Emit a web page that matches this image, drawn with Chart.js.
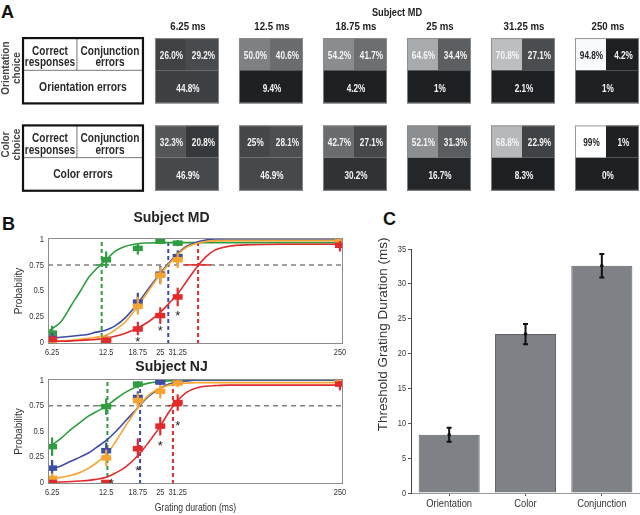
<!DOCTYPE html>
<html>
<head>
<meta charset="utf-8">
<script src="https://cdn.jsdelivr.net/npm/chart.js@4.4.1/dist/chart.umd.min.js"></script>
<style>
  html, body { margin: 0; padding: 0; background: #fff; }
  body { width: 640px; height: 515px; position: relative; overflow: hidden; }
  canvas { position: absolute; }
  .letter { position: absolute; font: bold 18px "Liberation Sans", Arial, sans-serif; line-height: 21px; color: #111; }
</style>
</head>
<body>
<div class="letter" style="left:1px;top:2px">A</div>
<div class="letter" style="left:2px;top:214px">B</div>
<div class="letter" style="left:383px;top:209px">C</div>
<canvas id="chartA" width="640" height="200" style="left:0;top:0"></canvas>
<canvas id="chartB1" width="360" height="165" style="left:0;top:200px"></canvas>
<canvas id="chartB2" width="360" height="165" style="left:0;top:350px"></canvas>
<canvas id="chartC" width="270" height="285" style="left:370px;top:230px"></canvas>
<script>
// ---------- panel A : response proportions, subject MD ----------
const durationHeads = ['6.25 ms', '12.5 ms', '18.75 ms', '25 ms', '31.25 ms', '250 ms'];

const oriCorrect = [26.0, 50.0, 54.2, 64.6, 70.8, 94.8];
const oriConj    = [29.2, 40.6, 41.7, 34.4, 27.1, 4.2];
const oriErrors  = [44.8, 9.4, 4.2, 1, 2.1, 1];
const colCorrect = [32.3, 25, 42.7, 52.1, 68.8, 99];
const colConj    = [20.8, 28.1, 27.1, 31.3, 22.9, 1];
const colErrors  = [46.9, 46.9, 30.2, 16.7, 8.3, 0];

// grey level of every square as printed (0 = black, 255 = white)
const oriCorrectGrey = [64, 126, 138, 168, 188, 248];
const oriConjGrey    = [72, 106, 108, 92, 74, 30];
const oriErrorsGrey  = [62, 30, 30, 30, 30, 30];
const colCorrectGrey = [84, 68, 106, 140, 182, 255];
const colConjGrey    = [54, 76, 70, 90, 64, 30];
const colErrorsGrey  = [70, 70, 48, 36, 30, 30];

// ---------- panel B : psychometric functions ----------
const durations = [6.25, 12.5, 18.75, 25, 31.25, 250];
const durationTicks = ['6.25', '12.5', '18.75', '25', '31.25', '250'];
const probTicks = [0, 0.25, 0.5, 0.75, 1];
const fitX = [5.95, 7, 8, 9, 10, 11, 12.5, 14, 16, 18.75, 21.5, 25, 28, 31.25, 35, 40, 45, 50, 60, 80, 120, 258];

// subject MD
const mdGreen   = [0.09, 0.80, 0.91, 0.98, 0.96, 0.96];
const mdGreenLo = [0.02, 0.72, 0.85, 0.95, 0.93, 0.93];
const mdGreenHi = [0.16, 0.88, 0.96, 1.0, 0.99, 0.99];
const mdBlue    = [0.04, 0.03, 0.39, 0.66, 0.83, 0.99];
const mdBlueLo  = [0.0, 0.0, 0.30, 0.57, 0.76, 0.97];
const mdBlueHi  = [0.09, 0.07, 0.48, 0.74, 0.89, 1.0];
const mdOrange   = [0.0, 0.03, 0.35, 0.65, 0.80, 0.98];
const mdOrangeLo = [0.0, 0.0, 0.27, 0.56, 0.72, 0.95];
const mdOrangeHi = [0.03, 0.07, 0.44, 0.73, 0.87, 1.0];
const mdRed   = [0.03, 0.02, 0.13, 0.26, 0.44, 0.94];
const mdRedLo = [0.0, 0.0, 0.07, 0.18, 0.35, 0.88];
const mdRedHi = [0.07, 0.05, 0.20, 0.34, 0.53, 0.98];
const mdGreenFit  = [0.11, 0.20, 0.36, 0.50, 0.63, 0.71, 0.80, 0.88, 0.93, 0.955, 0.962, 0.965, 0.965, 0.965, 0.965, 0.965, 0.965, 0.965, 0.965, 0.965, 0.965, 0.965];
const mdBlueFit   = [0.04, 0.05, 0.06, 0.07, 0.08, 0.10, 0.12, 0.16, 0.24, 0.38, 0.52, 0.67, 0.77, 0.86, 0.93, 0.97, 0.99, 1.0, 1.0, 1.0, 1.0, 1.0];
const mdOrangeFit = [0.01, 0.015, 0.02, 0.03, 0.04, 0.05, 0.07, 0.12, 0.20, 0.35, 0.50, 0.66, 0.76, 0.85, 0.92, 0.96, 0.975, 0.982, 0.985, 0.985, 0.985, 0.985];
const mdRedFit    = [0.01, 0.012, 0.015, 0.02, 0.025, 0.03, 0.04, 0.06, 0.09, 0.14, 0.20, 0.29, 0.38, 0.47, 0.59, 0.73, 0.83, 0.89, 0.93, 0.945, 0.95, 0.95];
const mdThreshold = [11.8, 27.7, 40.6];          // green, blue, red
const mdThresholdCI = [[11.0, 13.0], null, [34, 48]];
const mdStarX = [18.75, 25, 31.25];
const mdStarY = [0.04, 0.14, 0.29];

// subject NJ
const njGreen   = [0.35, 0.74, 0.96, 0.99, 1.0, 1.0];
const njGreenLo = [0.26, 0.66, 0.92, 0.97, 0.98, 0.98];
const njGreenHi = [0.44, 0.82, 0.99, 1.0, 1.0, 1.0];
const njBlue    = [0.14, 0.31, 0.83, 0.98, 1.0, 1.0];
const njBlueLo  = [0.07, 0.23, 0.76, 0.95, 0.98, 0.98];
const njBlueHi  = [0.22, 0.39, 0.89, 1.0, 1.0, 1.0];
const njOrange   = [0.04, 0.24, 0.80, 0.89, 0.97, 0.99];
const njOrangeLo = [0.0, 0.16, 0.72, 0.82, 0.93, 0.96];
const njOrangeHi = [0.09, 0.32, 0.87, 0.95, 1.0, 1.0];
const njRed   = [0.0, 0.0, 0.33, 0.55, 0.78, 0.96];
const njRedLo = [0.0, 0.0, 0.24, 0.46, 0.70, 0.90];
const njRedHi = [0.02, 0.02, 0.43, 0.64, 0.86, 0.99];
const njGreenFit  = [0.34, 0.43, 0.52, 0.59, 0.65, 0.69, 0.745, 0.81, 0.88, 0.94, 0.97, 0.985, 0.992, 0.996, 0.998, 1.0, 1.0, 1.0, 1.0, 1.0, 1.0, 1.0];
const njBlueFit   = [0.12, 0.16, 0.21, 0.25, 0.29, 0.34, 0.41, 0.49, 0.60, 0.73, 0.84, 0.92, 0.96, 0.98, 0.99, 1.0, 1.0, 1.0, 1.0, 1.0, 1.0, 1.0];
const njOrangeFit = [0.03, 0.05, 0.07, 0.10, 0.14, 0.19, 0.27, 0.39, 0.55, 0.73, 0.85, 0.92, 0.95, 0.965, 0.97, 0.975, 0.975, 0.975, 0.975, 0.975, 0.975, 0.975];
const njRedFit    = [0.0, 0.005, 0.01, 0.015, 0.02, 0.03, 0.05, 0.09, 0.15, 0.26, 0.39, 0.55, 0.69, 0.80, 0.88, 0.925, 0.94, 0.945, 0.95, 0.95, 0.95, 0.95];
const njThreshold = [12.7, 19.3, 29.4];
const njThresholdCI = [[11.3, 13.6], null, [27.5, 33]];
const njStarX = [13.4, 18.75, 25, 31.25];
const njStarY = [0.02, 0.15, 0.39, 0.59];

// ---------- panel C : thresholds ----------
const groups = ['Orientation', 'Color', 'Conjunction'];
const thresholdMs = [8.35, 22.8, 32.6];
const thresholdSem = [1.0, 1.45, 1.7];

// ---------- styling ----------
const SANS = '"Liberation Sans", Arial, sans-serif';
const GREEN = '#2e9c3f', BLUE = '#3c4ea3', ORANGE = '#f6a332', RED = '#e12a2c';
const lineColours = [GREEN, BLUE, RED];

Chart.defaults.color = '#333';
Chart.defaults.animation = false;

function greyOf(g) {
  return 'rgb(' + g + ',' + Math.min(255, g + 3) + ',' + Math.min(255, g + 6) + ')';
}
function pct(v, fixed) {
  return (fixed ? v.toFixed(1) : String(v)) + '%';
}
// the printed figure uses a narrow face, so squeeze text horizontally
function squeezed(ctx, text, x, y, sx, align) {
  ctx.save();
  ctx.translate(x, y);
  ctx.scale(sx, 1);
  ctx.textAlign = align || 'center';
  ctx.fillText(text, 0, 0);
  ctx.restore();
}

// ================================
// PANEL A
// ================================
const rowsA = [
  { tl: oriCorrect, tr: oriConj, bot: oriErrors, tlG: oriCorrectGrey, trG: oriConjGrey, botG: oriErrorsGrey,
    fixed: true, errName: 'Orientation errors', side: ['Orientation', 'choice'], sideShift: -0.03 },
  { tl: colCorrect, tr: colConj, bot: colErrors, tlG: colCorrectGrey, trG: colConjGrey, botG: colErrorsGrey,
    fixed: false, errName: 'Color errors', side: ['Color', 'choice'], sideShift: -0.155 }
];

const cellsPlugin = {
  id: 'cells',
  afterDraw(chart) {
    const { ctx, scales: { x, y } } = chart;
    const HW = 0.381, HH = 0.374;
    ctx.save();
    ctx.textBaseline = 'middle';

    // title and column heads
    ctx.fillStyle = '#222';
    ctx.font = 'bold 11.5px ' + SANS;
    squeezed(ctx, 'Subject MD', x.getPixelForValue(2.5), 13, 0.8);
    durationHeads.forEach((h, i) => {
      squeezed(ctx, h, x.getPixelForValue(i) + 1, y.getPixelForValue(-HH) - 11, 0.84);
    });

    rowsA.forEach((row, r) => {
      const yt = y.getPixelForValue(r - HH), yb = y.getPixelForValue(r + HH);
      const ym = y.getPixelForValue(r - 0.005);

      // key table
      const tl = x.getPixelForValue(-1.952), tr = x.getPixelForValue(-0.524), td = x.getPixelForValue(-1.31);
      ctx.fillStyle = '#fff';
      ctx.fillRect(tl, yt, tr - tl, yb - yt);
      ctx.strokeStyle = '#777';
      ctx.lineWidth = 1;
      ctx.beginPath();
      ctx.moveTo(tl, ym); ctx.lineTo(tr, ym);
      ctx.moveTo(td, yt); ctx.lineTo(td, ym);
      ctx.stroke();
      ctx.strokeStyle = '#111';
      ctx.lineWidth = 2.2;
      ctx.strokeRect(tl, yt, tr - tl, yb - yt);

      ctx.fillStyle = '#2a2a2a';
      ctx.font = 'bold 12px ' + SANS;
      ctx.textBaseline = 'alphabetic';
      squeezed(ctx, 'Correct', (tl + td) / 2, ym - 15.5, 0.84);
      squeezed(ctx, 'responses', (tl + td) / 2, ym - 4, 0.84);
      squeezed(ctx, 'Conjunction', (td + tr) / 2, ym - 15.5, 0.84);
      squeezed(ctx, 'errors', (td + tr) / 2, ym - 4, 0.84);
      squeezed(ctx, row.errName, (tl + tr) / 2, yb - 12.5, 0.86);
      ctx.textBaseline = 'middle';

      // rotated row label
      ctx.save();
      ctx.translate(0, y.getPixelForValue(r + row.sideShift));
      ctx.rotate(-Math.PI / 2);
      ctx.fillStyle = '#444';
      ctx.font = 'bold 10px ' + SANS;
      ctx.textAlign = 'center';
      ctx.fillText(row.side[0], 0, 6);
      ctx.fillText(row.side[1], 0, 17);
      ctx.restore();

      // squares
      durationHeads.forEach((h, i) => {
        const xl = x.getPixelForValue(i - HW), xr = x.getPixelForValue(i + HW);
        const xm = x.getPixelForValue(i - 0.012);
        const cells = [
          [xl, yt, xm - xl, ym - yt, row.tlG[i], pct(row.tl[i], row.fixed)],
          [xm, yt, xr - xm, ym - yt, row.trG[i], pct(row.tr[i], row.fixed)],
          [xl, ym, xr - xl, yb - ym, row.botG[i], pct(row.bot[i], false)]
        ];
        cells.forEach(c => {
          ctx.fillStyle = greyOf(c[4]);
          ctx.fillRect(c[0], c[1], c[2], c[3]);
        });
        ctx.strokeStyle = 'rgba(140,140,140,0.9)';
        ctx.lineWidth = 1;
        ctx.strokeRect(xl + 0.5, yt + 0.5, xr - xl - 1, yb - yt - 1);
        ctx.font = 'bold 10.5px ' + SANS;
        cells.forEach(c => {
          ctx.fillStyle = c[4] > 200 ? '#222' : '#f4f4f4';
          squeezed(ctx, c[5], c[0] + c[2] / 2 + 1, c[1] + c[3] / 2 + 2, 0.78);
        });
      });
    });
    ctx.restore();
  }
};

new Chart(document.getElementById('chartA'), {
  type: 'scatter',
  data: { datasets: [] },
  options: {
    responsive: false,
    events: [],
    layout: { padding: 0 },
    plugins: { legend: { display: false }, tooltip: { enabled: false } },
    scales: {
      x: { type: 'linear', display: false, min: -2.226, max: 5.393 },
      y: { type: 'linear', display: false, reverse: true, min: -0.81, max: 1.48 }
    }
  },
  plugins: [cellsPlugin]
});

// ================================
// PANEL B
// ================================
const errorBars = {
  id: 'errorBars',
  beforeDatasetDraw(chart, args) {
    const ds = chart.data.datasets[args.index];
    if (!ds.errLo) return;
    const { ctx, scales: { x, y } } = chart;
    ctx.save();
    ctx.strokeStyle = ds.borderColor;
    ctx.lineWidth = 2.2;
    ds.data.forEach((pt, k) => {
      const px = x.getPixelForValue(pt.x);
      ctx.beginPath();
      ctx.moveTo(px, y.getPixelForValue(ds.errLo[k]));
      ctx.lineTo(px, y.getPixelForValue(ds.errHi[k]));
      ctx.stroke();
    });
    ctx.restore();
  }
};

const guides = {
  id: 'guides',
  beforeDatasetsDraw(chart, args, opts) {
    const { ctx, chartArea: a, scales: { x, y } } = chart;
    ctx.save();
    const y75 = y.getPixelForValue(0.75);
    ctx.lineWidth = 1.5;
    ctx.setLineDash([5, 4]);
    ctx.strokeStyle = '#808080';
    ctx.beginPath(); ctx.moveTo(a.left, y75); ctx.lineTo(a.right, y75); ctx.stroke();
    ctx.lineWidth = 2;
    ctx.setLineDash([4, 3]);
    opts.thresholds.forEach((t, k) => {
      const px = x.getPixelForValue(t);
      ctx.strokeStyle = lineColours[k];
      ctx.beginPath(); ctx.moveTo(px, a.bottom); ctx.lineTo(px, a.top); ctx.stroke();
    });
    ctx.setLineDash([]);
    ctx.lineWidth = 1.5;
    opts.ci.forEach((c, k) => {
      if (!c) return;
      ctx.strokeStyle = lineColours[k];
      ctx.beginPath(); ctx.moveTo(x.getPixelForValue(c[0]), y75); ctx.lineTo(x.getPixelForValue(c[1]), y75); ctx.stroke();
    });
    ctx.restore();
  },
  afterDatasetsDraw(chart, args, opts) {
    const { ctx, chartArea: a, scales: { x, y } } = chart;
    ctx.save();
    ctx.fillStyle = '#222';
    ctx.font = '13px ' + SANS;
    ctx.textAlign = 'center';
    ctx.textBaseline = 'alphabetic';
    opts.starX.forEach((sx, k) => {
      ctx.fillText('*', x.getPixelForValue(sx), y.getPixelForValue(opts.starY[k]) + 7.5);
    });
    ctx.strokeStyle = '#8c8c8c';
    ctx.lineWidth = 1;
    ctx.strokeRect(a.left + 0.5, a.top + 0.5, a.width - 1, a.height - 1);

    // tick labels and x title, in the narrow face of the original
    ctx.fillStyle = '#333';
    ctx.font = '9.5px ' + SANS;
    ctx.textBaseline = 'middle';
    x.ticks.forEach(t => {
      squeezed(ctx, durationTicks[durations.indexOf(t.value)], x.getPixelForValue(t.value), a.bottom + 8.5, 0.78);
    });
    y.ticks.forEach(t => {
      squeezed(ctx, String(t.value), a.left - 4, y.getPixelForValue(t.value), 0.8, 'right');
    });
    if (opts.xTitle) {
      ctx.font = '10.5px ' + SANS;
      squeezed(ctx, opts.xTitle, (a.left + a.right) / 2, a.bottom + 24, 0.82);
    }
    ctx.restore();
  }
};

function pointsSet(vals, lo, hi, colour, order) {
  return {
    data: durations.map((d, k) => ({ x: d, y: vals[k] })),
    errLo: lo, errHi: hi,
    showLine: false,
    borderColor: colour, backgroundColor: colour,
    pointStyle: 'line', pointRadius: 5, pointBorderWidth: 5.5,
    order: order
  };
}
function fitSet(vals, colour, order) {
  return {
    data: fitX.map((d, k) => ({ x: d, y: vals[k] })),
    showLine: true, borderColor: colour, borderWidth: 1.6,
    pointRadius: 0, cubicInterpolationMode: 'monotone',
    order: order
  };
}

function probChart(id, cfg) {
  return new Chart(document.getElementById(id), {
    type: 'scatter',
    data: { datasets: cfg.datasets },
    options: {
      responsive: false,
      events: [],
      layout: { padding: { left: 0, right: 17, top: 0, bottom: 0 } },
      plugins: {
        legend: { display: false },
        tooltip: { enabled: false },
        title: {
          display: true, text: cfg.title, color: '#222',
          font: { family: SANS, size: 14, weight: 'bold' },
          padding: cfg.titlePad
        },
        guides: { thresholds: cfg.thresholds, ci: cfg.ci, starX: cfg.starX, starY: cfg.starY, xTitle: cfg.xTitle }
      },
      scales: {
        x: {
          type: 'logarithmic', min: 5.93, max: 260,
          afterBuildTicks: s => { s.ticks = durations.map(v => ({ value: v })); },
          afterFit: s => { s.height = cfg.xHeight; },
          grid: { display: false, drawTicks: false }, border: { display: false },
          ticks: { display: false }
        },
        y: {
          type: 'linear', min: -0.015, max: 1.01,
          afterBuildTicks: s => { s.ticks = probTicks.map(v => ({ value: v })); },
          afterFit: s => { s.width = 48; },
          grid: { display: false, drawTicks: false }, border: { display: false },
          ticks: { display: false },
          title: {
            display: true, text: 'Probability', color: '#333',
            font: { family: SANS, size: 10 }, padding: { top: 13, bottom: 0 }
          }
        }
      }
    },
    plugins: [guides, errorBars]
  });
}

probChart('chartB1', {
  title: 'Subject MD', titlePad: { top: 9.6, bottom: 11.6 }, xHeight: 21, xTitle: '',
  thresholds: mdThreshold, ci: mdThresholdCI, starX: mdStarX, starY: mdStarY,
  datasets: [
    pointsSet(mdRed, mdRedLo, mdRedHi, RED, 0),
    pointsSet(mdOrange, mdOrangeLo, mdOrangeHi, ORANGE, 1),
    pointsSet(mdBlue, mdBlueLo, mdBlueHi, BLUE, 2),
    pointsSet(mdGreen, mdGreenLo, mdGreenHi, GREEN, 3),
    fitSet(mdRedFit, RED, 10),
    fitSet(mdOrangeFit, ORANGE, 11),
    fitSet(mdBlueFit, BLUE, 12),
    fitSet(mdGreenFit, GREEN, 13)
  ]
});

probChart('chartB2', {
  title: 'Subject NJ', titlePad: { top: 8.6, bottom: 3.6 }, xHeight: 31, xTitle: 'Grating duration (ms)',
  thresholds: njThreshold, ci: njThresholdCI, starX: njStarX, starY: njStarY,
  datasets: [
    pointsSet(njRed, njRedLo, njRedHi, RED, 0),
    pointsSet(njOrange, njOrangeLo, njOrangeHi, ORANGE, 1),
    pointsSet(njBlue, njBlueLo, njBlueHi, BLUE, 2),
    pointsSet(njGreen, njGreenLo, njGreenHi, GREEN, 3),
    fitSet(njRedFit, RED, 10),
    fitSet(njOrangeFit, ORANGE, 11),
    fitSet(njBlueFit, BLUE, 12),
    fitSet(njGreenFit, GREEN, 13)
  ]
});

// ================================
// PANEL C
// ================================
const barErrors = {
  id: 'barErrors',
  afterDatasetsDraw(chart) {
    const { ctx, chartArea: a, scales: { x, y } } = chart;
    const ds = chart.data.datasets[0];
    const meta = chart.getDatasetMeta(0);
    ctx.save();
    ctx.strokeStyle = '#111';
    ctx.fillStyle = '#111';
    ctx.lineWidth = 2;
    meta.data.forEach((bar, k) => {
      const v = ds.data[k], e = ds.err[k];
      const top = y.getPixelForValue(v + e), bot = y.getPixelForValue(v - e);
      ctx.beginPath();
      ctx.moveTo(bar.x, top); ctx.lineTo(bar.x, bot);
      ctx.moveTo(bar.x - 2.5, top); ctx.lineTo(bar.x + 2.5, top);
      ctx.moveTo(bar.x - 2.5, bot); ctx.lineTo(bar.x + 2.5, bot);
      ctx.stroke();
      ctx.beginPath();
      ctx.arc(bar.x, y.getPixelForValue(v), 1.8, 0, Math.PI * 2);
      ctx.fill();
    });

    // tick labels in the narrow face
    ctx.fillStyle = '#333';
    ctx.textBaseline = 'middle';
    ctx.font = '9.5px ' + SANS;
    y.ticks.forEach(t => {
      squeezed(ctx, String(t.value), a.left - 5, y.getPixelForValue(t.value), 0.78, 'right');
    });
    ctx.font = '11px ' + SANS;
    x.ticks.forEach((t, i) => {
      squeezed(ctx, chart.data.labels[t.value], x.getPixelForTick(i), a.bottom + 11, 0.85);
    });

    // axis title, set high as in the original
    ctx.translate(13, a.top + a.height * 0.35);
    ctx.rotate(-Math.PI / 2);
    ctx.font = '13.5px ' + SANS;
    ctx.textAlign = 'center';
    ctx.fillText('Threshold Grating Duration (ms)', 0, 0);
    ctx.restore();
  }
};

new Chart(document.getElementById('chartC'), {
  type: 'bar',
  data: {
    labels: groups,
    datasets: [{
      data: thresholdMs, err: thresholdSem,
      backgroundColor: '#7e8287', borderColor: '#5e6266', borderWidth: 1,
      barPercentage: 0.8, categoryPercentage: 1
    }]
  },
  options: {
    responsive: false,
    events: [],
    layout: { padding: { top: 19, right: 0, left: 0, bottom: 0 } },
    plugins: { legend: { display: false }, tooltip: { enabled: false } },
    scales: {
      x: {
        afterFit: s => { s.height = 22; },
        grid: { display: true, drawOnChartArea: false, offset: false, tickLength: 3, color: '#555' },
        border: { color: '#9a9a9a' },
        ticks: { display: false }
      },
      y: {
        min: 0, max: 35,
        afterFit: s => { s.width = 41; },
        grid: { drawOnChartArea: false, tickLength: 3, color: '#555' },
        border: { color: '#444' },
        ticks: { display: false, stepSize: 5 }
      }
    }
  },
  plugins: [barErrors]
});
</script>
</body>
</html>
